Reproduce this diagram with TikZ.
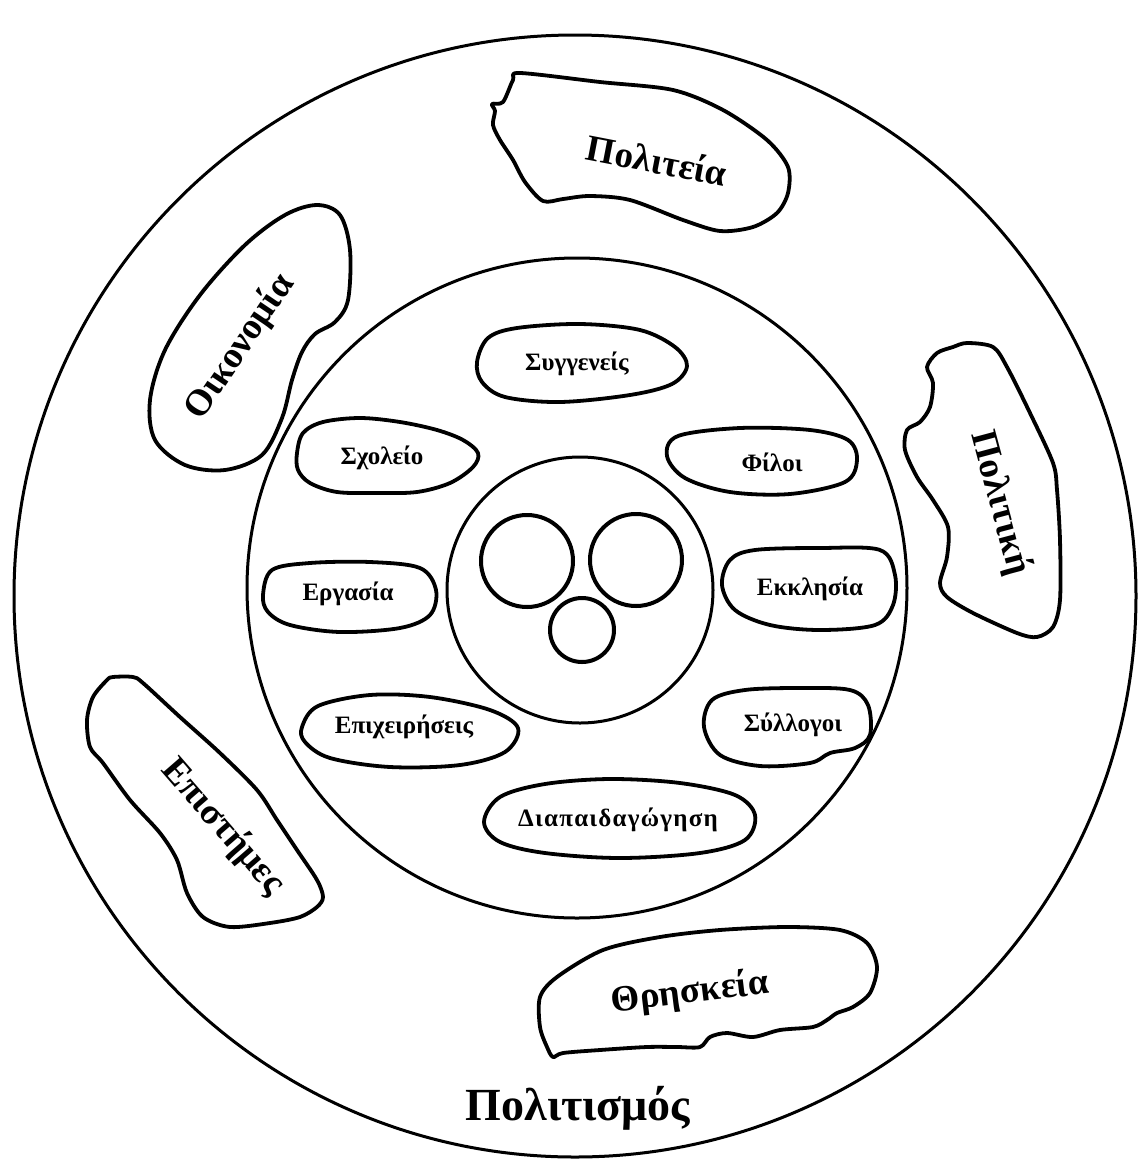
\documentclass[tikz,border=0pt]{standalone}
\usepackage{fontspec}
\setmainfont{Liberation Serif}
\begin{document}
\begin{tikzpicture}[x=1pt,y=-1pt,
  ring/.style={circle,draw,line width=3pt,inner sep=0pt},
  dot/.style={circle,draw,line width=4pt,inner sep=0pt},
  blob/.style={draw,line width=3.8pt,line join=round},
  biglabel/.style={font=\bfseries\fontsize{37}{40}\selectfont,inner sep=0pt},
  smalllabel/.style={font=\bfseries\fontsize{25}{28}\selectfont,inner sep=0pt},
  titlelabel/.style={font=\bfseries\fontsize{46}{50}\selectfont,inner sep=0pt}]
\useasboundingbox (0,0) rectangle (1148,1163);
% circles
\node[ring,minimum size=1122pt] (outer) at (575,596) {};
\node[ring,minimum size=660pt] (middle) at (577,588) {};
\node[ring,minimum size=266pt] (inner) at (580,590) {};
\node[dot,minimum size=92pt] (c1) at (527,561) {};
\node[dot,minimum size=92pt] (c2) at (636,560) {};
\node[dot,minimum size=64pt] (c3) at (582,630) {};
% outer blobs
\draw[blob] plot[smooth cycle,tension=0.5] coordinates {(520,73) (600,82) (673,90) (723,110) (767,140) (788,167) (788,193) (777,213) (753,227) (720,231) (683,220) (630,200) (590,196) (563,199) (543,201) (525,182) (513,160) (500,140) (493,125) (495,111) (492,104) (503,102) (513,80)};
\draw[blob] plot[smooth cycle,tension=0.55] coordinates {(317,205) (340,215) (350,250) (348,300) (335,322) (315,334) (302,352) (292,380) (282,418) (262,455) (225,470) (185,465) (155,440) (150,400) (165,350) (200,295) (245,245) (285,215)};
\draw[blob] plot[smooth cycle,tension=0.5] coordinates {(967,343) (993,347) (1007,367) (1030,413) (1053,463) (1057,490) (1060,540) (1060,600) (1053,627) (1037,637) (1017,633) (973,613) (947,597) (940,583) (947,557) (948,527) (933,500) (917,477) (905,450) (907,430) (920,422) (930,407) (933,383) (927,367) (937,353) (953,347)};
\draw[blob] plot[smooth cycle,tension=0.5] coordinates {(113,677) (133,677) (143,683) (180,717) (220,753) (257,790) (277,820) (297,850) (317,880) (323,897) (317,907) (300,917) (270,923) (230,927) (203,917) (187,893) (177,860) (160,833) (130,800) (103,763) (90,747) (87,720) (93,697) (107,680)};
\draw[blob] plot[smooth cycle,tension=0.5] coordinates {(540,997) (557,977) (603,950) (660,937) (720,930) (787,927) (840,930) (867,943) (877,967) (870,993) (853,1007) (837,1013) (827,1020) (813,1027) (780,1030) (753,1037) (727,1033) (710,1037) (700,1047) (677,1047) (647,1047) (600,1050) (563,1053) (553,1057) (547,1047) (540,1027)};
% inner blobs
\draw[blob] plot[smooth cycle,tension=0.55] coordinates {(477,362) (488,338) (517,328) (580,324) (640,330) (675,347) (687,366) (672,384) (630,395) (560,402) (505,397) (482,382)};
\draw[blob] plot[smooth cycle,tension=0.55] coordinates {(297,453) (303,433) (323,422) (360,418) (400,422) (437,430) (463,440) (478,453) (473,467) (450,483) (417,492) (377,493) (337,492) (310,483) (298,470)};
\draw[blob] plot[smooth cycle,tension=0.55] coordinates {(667,456) (678,436) (740,428) (810,430) (848,440) (857,460) (845,482) (790,494) (730,492) (685,478)};
\draw[blob] plot[smooth cycle,tension=0.55] coordinates {(263,595) (272,570) (310,563) (370,562) (420,568) (436,590) (430,615) (400,628) (340,632) (290,625) (268,612)};
\draw[blob] plot[smooth cycle,tension=0.55] coordinates {(722,585) (730,560) (755,550) (820,548) (880,550) (895,575) (893,605) (875,625) (820,630) (770,625) (735,610)};
\draw[blob] plot[smooth cycle,tension=0.55] coordinates {(302,727) (318,706) (370,695) (430,697) (490,710) (518,728) (505,752) (460,765) (390,767) (330,758) (305,742)};
\draw[blob] plot[smooth cycle,tension=0.55] coordinates {(704,727) (712,700) (745,690) (800,688) (850,690) (868,705) (870,735) (855,748) (830,753) (810,763) (760,766) (720,755)};
\draw[blob] plot[smooth cycle,tension=0.55] coordinates {(484,822) (500,797) (545,784) (610,779) (680,783) (735,795) (755,815) (745,840) (700,853) (620,858) (545,853) (500,842)};
% labels
\node[biglabel,rotate=-11] (politeia) at (657,160) {Πολιτεία};
\node[biglabel,rotate=56] (oikonomia) at (240,347) {Οικονομία};
\node[biglabel,rotate=-75] (politiki) at (1000,503) {Πολιτική};
\node[biglabel,rotate=-49] (epistimes) at (223,827) {Επιστήμες};
\node[biglabel,rotate=7] (thriskeia) at (690,993) {Θρησκεία};
\node[titlelabel] (politismos) at (578,1108) {Πολιτισμός};
\node[smalllabel] (syggeneis) at (577,364) {Συγγενείς};
\node[smalllabel] (sxoleio) at (382,458) {Σχολείο};
\node[smalllabel] (filoi) at (772,462) {Φίλοι};
\node[smalllabel] (ergasia) at (348,594) {Εργασία};
\node[smalllabel] (ekklisia) at (810,589) {Εκκλησία};
\node[smalllabel] (epixeiriseis) at (404,727) {Επιχειρήσεις};
\node[smalllabel] (syllogoi) at (793,725) {Σύλλογοι};
\node[smalllabel] (diapaidagogisi) at (618,820) {\addfontfeature{LetterSpace=5}Διαπαιδαγώγηση};
\end{tikzpicture}
\end{document}
